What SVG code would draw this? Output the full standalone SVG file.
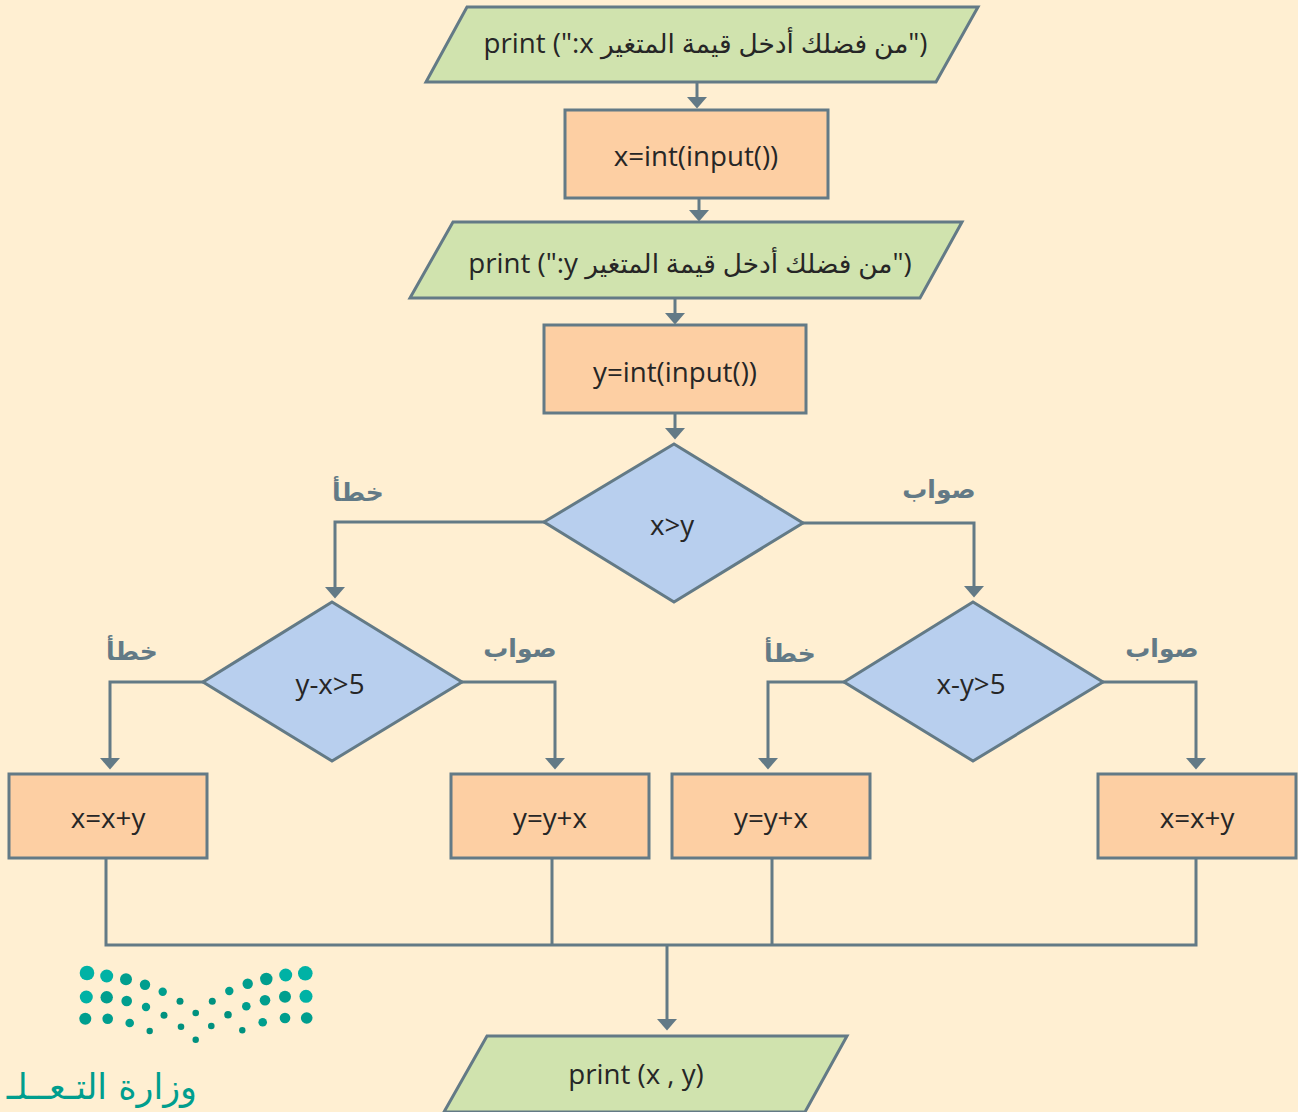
<svg xmlns="http://www.w3.org/2000/svg" width="1298" height="1112" viewBox="0 0 1298 1112">
<style>
.s{stroke:#637A86;stroke-width:3;stroke-linejoin:miter}
.g{fill:#D0E3AE}.o{fill:#FDCFA3}.b{fill:#B8CFEE}
text{font-family:"Open Sans","Noto Sans","DejaVu Sans",sans-serif;font-size:27.7px;fill:#262626;text-anchor:middle}
.ar{font-size:26.4px}
.l{font-family:"DejaVu Sans",sans-serif;font-size:25px;font-weight:bold;fill:#637A86}
.c{fill:none;stroke:#637A86;stroke-width:3}
.t{fill:#00B2A5}.u{fill:#009E8E}.v{fill:#00917F}
</style>
<defs>
<marker id="h" markerUnits="userSpaceOnUse" markerWidth="12" markerHeight="20" refX="8" refY="10" orient="auto" viewBox="0 0 12 20"><path d="M0 0L11.5 10L0 20Z" fill="#637A86"/></marker>
</defs>
<rect width="1298" height="1112" fill="#FFEFD2"/>
<g id="connectors">
<path class="c" marker-end="url(#h)" d="M697 82V105"/>
<path class="c" marker-end="url(#h)" d="M699 198V218"/>
<path class="c" marker-end="url(#h)" d="M675 298V321"/>
<path class="c" marker-end="url(#h)" d="M675 413V436"/>
<path class="c" marker-end="url(#h)" d="M544 522H335V595"/>
<path class="c" marker-end="url(#h)" d="M803 523H974V594"/>
<path class="c" marker-end="url(#h)" d="M203 682H110V766"/>
<path class="c" marker-end="url(#h)" d="M462 682H555V766"/>
<path class="c" marker-end="url(#h)" d="M844 682H768V766"/>
<path class="c" marker-end="url(#h)" d="M1103 682H1196V766"/>
<path class="c" d="M106 858V945H1196V858M552 858V945M772 858V945"/>
<path class="c" marker-end="url(#h)" d="M667 945V1027"/>
</g>
<g id="n1"><path class="s g" d="M467 7H978L936 82H426Z"/><text x="705.500" y="53">print (":x <tspan class="ar">من فضلك أدخل قيمة المتغير</tspan>")</text></g>
<g id="n2"><rect class="s o" x="565" y="110" width="263" height="88"/><text x="696" y="166">x=int(input())</text></g>
<g id="n3"><path class="s g" d="M453 222H962L920 298H410Z"/><text x="690" y="273">print (":y <tspan class="ar">من فضلك أدخل قيمة المتغير</tspan>")</text></g>
<g id="n4"><rect class="s o" x="544" y="325" width="262" height="88"/><text x="675" y="382">y=int(input())</text></g>
<g id="n5"><path class="s b" d="M674 444L803 523L674 602L544 522Z"/><text x="672" y="535">x&gt;y</text></g>
<g id="n6"><path class="s b" d="M332 602L462 682L332 761L203 682Z"/><text x="330" y="694">y-x&gt;5</text></g>
<g id="n7"><path class="s b" d="M973 602L1103 682L973 761L844 682Z"/><text x="971" y="694">x-y&gt;5</text></g>
<g id="n8"><rect class="s o" x="9" y="774" width="198" height="84"/><text x="108" y="828">x=x+y</text></g>
<g id="n9"><rect class="s o" x="451" y="774" width="198" height="84"/><text x="550" y="828">y=y+x</text></g>
<g id="n10"><rect class="s o" x="672" y="774" width="198" height="84"/><text x="771" y="828">y=y+x</text></g>
<g id="n11"><rect class="s o" x="1098" y="774" width="198" height="84"/><text x="1197" y="828">x=x+y</text></g>
<g id="n12"><path class="s g" d="M487 1036H847L805 1112H444Z"/><text x="636" y="1084">print (x , y)</text></g>
<g id="labels">
<text class="l" x="358" y="501">خطأ</text>
<text class="l" x="939" y="498">صواب</text>
<text class="l" x="132" y="660">خطأ</text>
<text class="l" x="520" y="657">صواب</text>
<text class="l" x="790" y="662">خطأ</text>
<text class="l" x="1162" y="657">صواب</text>
</g>
<g id="logo">
<circle class="t" cx="87" cy="973" r="7.3"/><circle class="t" cx="106.7" cy="976" r="6.5"/><circle class="u" cx="126" cy="979.3" r="6"/><circle class="u" cx="145" cy="984.7" r="5.2"/><circle class="u" cx="162.7" cy="991.7" r="4.2"/><circle class="v" cx="180" cy="1001.3" r="3.5"/><circle class="v" cx="212.3" cy="1001.3" r="3.5"/><circle class="u" cx="229.3" cy="991" r="4.2"/><circle class="u" cx="247.7" cy="983.7" r="5.2"/><circle class="u" cx="266.3" cy="979" r="6.2"/><circle class="t" cx="285.7" cy="975" r="6.5"/><circle class="t" cx="305.3" cy="973.3" r="7.3"/>
<circle class="t" cx="86.3" cy="997" r="6.5"/><circle class="u" cx="106.7" cy="997.3" r="6.2"/><circle class="u" cx="126.7" cy="1001" r="5.3"/><circle class="u" cx="146" cy="1007" r="4.2"/><circle class="v" cx="164" cy="1015.3" r="3.5"/><circle class="v" cx="195.7" cy="1013" r="3.3"/><circle class="v" cx="228" cy="1014.7" r="3.8"/><circle class="u" cx="246.3" cy="1006.3" r="4.3"/><circle class="u" cx="265" cy="1000.3" r="5.3"/><circle class="u" cx="285" cy="996.7" r="6"/><circle class="t" cx="306" cy="996.3" r="6.5"/>
<circle class="u" cx="85.3" cy="1018.7" r="6"/><circle class="u" cx="107.7" cy="1018.7" r="5.3"/><circle class="u" cx="129.7" cy="1023" r="4.3"/><circle class="v" cx="149.7" cy="1031" r="3.2"/><circle class="v" cx="181" cy="1026.7" r="3.3"/><circle class="v" cx="211.3" cy="1026" r="3.3"/><circle class="v" cx="242.3" cy="1030.3" r="3.2"/><circle class="u" cx="262.7" cy="1022.3" r="4.3"/><circle class="u" cx="285" cy="1018" r="5.3"/><circle class="u" cx="306.7" cy="1018" r="5.8"/><circle class="v" cx="195.7" cy="1039.7" r="3.2"/>
<text x="197" y="1099" style="text-anchor:end;font-family:'DejaVu Sans',sans-serif;font-size:35px;fill:#009E8E">وزارة التـعــلـ</text>
</g>
</svg>
